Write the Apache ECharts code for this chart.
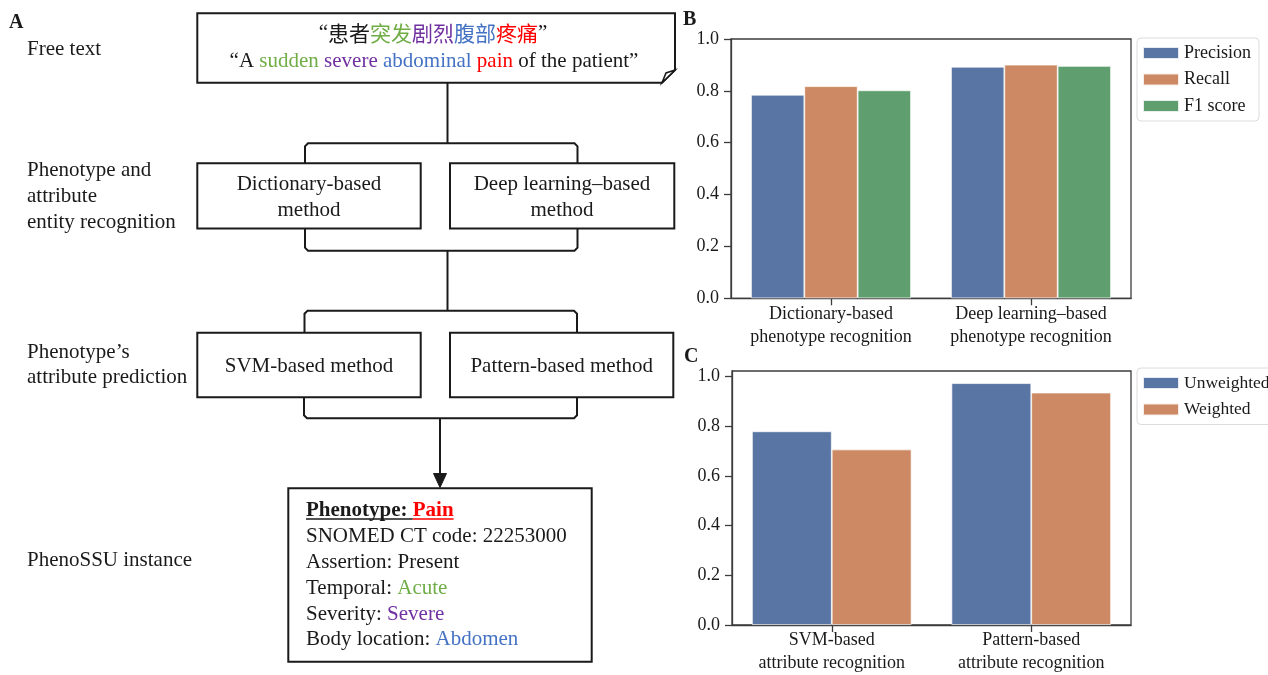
<!DOCTYPE html>
<html>
<head>
<meta charset="utf-8">
<script src="https://cdn.jsdelivr.net/npm/echarts@6/dist/echarts.min.js"></script>
<style>
html,body{margin:0;padding:0;background:#fff;}
#main{width:1268px;height:675px;}
</style>
</head>
<body>
<div id="main"></div>
<script>
// ---------- data ----------
const categoriesB = ['Dictionary-based\nphenotype recognition', 'Deep learning\u2013based\nphenotype recognition'];
const seriesNamesB = ['Precision', 'Recall', 'F1 score'];
const precision = [0.785, 0.893];
const recall = [0.818, 0.901];
const f1score = [0.802, 0.896];

const categoriesC = ['SVM-based\nattribute recognition', 'Pattern-based\nattribute recognition'];
const seriesNamesC = ['Unweighted', 'Weighted'];
const unweighted = [0.780, 0.974];
const weighted = [0.707, 0.936];

const yTickValues = [0, 0.2, 0.4, 0.6, 0.8, 1.0];

// ---------- style ----------
const SERIF = '"Liberation Serif", "Times New Roman", serif';
const CJK = '"Noto Sans CJK SC", sans-serif';
const INK = '#1a1a1a';
const AXIS = '#3c3c3c';
const BLUE = '#5875a4', ORANGE = '#cc8963', GREEN = '#5f9e6e';
const T_GREEN = '#70ad47', T_PURPLE = '#7030a0', T_BLUE = '#4472c4', T_RED = '#ff0000';
const FS = 21;

const chart = echarts.init(document.getElementById('main'), null, {renderer: 'canvas'});

function yAxisCfg(gridIndex, max) {
  return {
    type: 'value', gridIndex: gridIndex, min: 0, max: max,
    splitLine: {show: false},
    axisLine: {show: true, lineStyle: {color: AXIS, width: 1.3}},
    axisTick: {show: true, length: 7, lineStyle: {color: AXIS, width: 1.3}, customValues: yTickValues},
    axisLabel: {
      customValues: yTickValues, margin: 12,
      formatter: v => Number(v).toFixed(1),
      fontFamily: SERIF, fontSize: 18, color: INK
    }
  };
}
function xAxisCfg(gridIndex, cats) {
  return {
    type: 'category', gridIndex: gridIndex, data: cats,
    axisLine: {show: true, lineStyle: {color: AXIS, width: 1.3}},
    axisTick: {show: true, alignWithLabel: true, length: 7, lineStyle: {color: AXIS, width: 1.3}},
    axisLabel: {interval: 0, hideOverlap: false, margin: 4, fontFamily: SERIF, fontSize: 18, lineHeight: 23, color: INK}
  };
}
function barSeries(name, data, color, idx) {
  return {
    type: 'bar', name: name, data: data, xAxisIndex: idx, yAxisIndex: idx,
    barGap: '0%', barCategoryGap: '20%',
    itemStyle: {color: color, borderColor: 'rgba(255,255,255,0.85)', borderWidth: 0.8},
    emphasis: {disabled: true}
  };
}
function legendCfg(top, names, fs) {
  return {
    data: names, orient: 'vertical', left: 1137, top: top,
    itemWidth: 36, itemHeight: 12, itemGap: 8.5,
    padding: [6, 8, 6, 5],
    borderColor: '#dcdcdc', borderWidth: 1, borderRadius: 4, backgroundColor: '#fff',
    icon: 'rect',
    selectedMode: false,
    textStyle: {fontFamily: SERIF, fontSize: fs, color: INK, lineHeight: 18}
  };
}

// ---------- flowchart helpers (decoration) ----------
const G = [];
const LINE = {stroke: INK, lineWidth: 2, fill: null};
function rect(x, y, w, h) {
  G.push({type: 'rect', shape: {x: x, y: y, width: w, height: h}, style: {fill: '#fff', stroke: INK, lineWidth: 2}});
}
function poly(points, extra) {
  G.push({type: 'polyline', shape: {points: points}, style: Object.assign({}, LINE, extra || {})});
}
function text(x, y, str, opt) {
  opt = opt || {};
  const st = Object.assign({
    text: str, fill: INK,
    fontFamily: SERIF, fontSize: FS, fontWeight: 'normal',
    align: 'left', verticalAlign: 'middle',
    textAlign: 'left', textVerticalAlign: 'middle'
  }, opt);
  if (opt.align) st.textAlign = opt.align;
  G.push({type: 'text', x: x, y: y, style: st});
}
function measure(str, weight) {
  const c = document.createElement('canvas').getContext('2d');
  c.font = (weight || 'normal') + ' ' + FS + 'px ' + SERIF;
  return c.measureText(str).width;
}
function tok(color, family, size) {
  return {fill: color, fontFamily: family || SERIF, fontSize: size || FS};
}

// panel labels
text(9, 23, 'A', {fontWeight: 'bold', fontSize: 20});
text(683, 20, 'B', {fontWeight: 'bold', fontSize: 20});
text(684, 357, 'C', {fontWeight: 'bold', fontSize: 20});

// left row labels
text(27, 49.5, 'Free text');
text(27, 170, 'Phenotype and');
text(27, 196, 'attribute');
text(27, 222, 'entity recognition');
text(27, 352, 'Phenotype\u2019s');
text(27, 377, 'attribute prediction');
text(27, 560, 'PhenoSSU instance');

// connectors
poly([[447.5, 82.7], [447.5, 143.3]]);
poly([[305, 163.3], [305, 146.3], [308, 143.3], [574.5, 143.3], [577.5, 146.3], [577.5, 163.3]]);
poly([[305, 228.5], [305, 247.7], [308, 250.7], [574.5, 250.7], [577.5, 247.7], [577.5, 228.5]]);
poly([[447.5, 250.7], [447.5, 310.7]]);
poly([[304.5, 332.7], [304.5, 313.7], [307.5, 310.7], [574, 310.7], [577, 313.7], [577, 332.7]]);
poly([[304, 397.3], [304, 415.3], [307, 418.3], [574, 418.3], [577, 415.3], [577, 397.3]]);
poly([[440, 418.3], [440, 475]]);
G.push({type: 'polygon', shape: {points: [[433.5, 473.5], [446.5, 473.5], [440, 487.5]]}, style: {fill: INK, stroke: INK, lineWidth: 1}});

// top "note" box with folded corner
G.push({type: 'polygon', shape: {points: [[197.3, 13.3], [675, 13.3], [675, 70], [662, 82.7], [197.3, 82.7]]},
  style: {fill: '#fff', stroke: INK, lineWidth: 2}});
G.push({type: 'polygon', shape: {points: [[662, 82.7], [666, 73], [675, 70]]}, style: {fill: '#fff', stroke: INK, lineWidth: 1.6}});
text(433, 33.5, '\u201c{k|患者}{g|突发}{p|剧烈}{b|腹部}{r|疼痛}\u201d', {
  align: 'center',
  rich: {
    k: tok(INK, CJK, 21), g: tok(T_GREEN, CJK, 21), p: tok(T_PURPLE, CJK, 21),
    b: tok(T_BLUE, CJK, 21), r: tok(T_RED, CJK, 21)
  }
});
text(434, 61, '\u201cA {g|sudden} {p|severe} {b|abdominal} {r|pain} of the patient\u201d', {
  align: 'center',
  rich: {g: tok(T_GREEN), p: tok(T_PURPLE), b: tok(T_BLUE), r: tok(T_RED)}
});

// method boxes
rect(197.3, 163.3, 223.4, 65.2);
rect(450, 163.3, 224.3, 65.2);
text(309, 184, 'Dictionary-based', {align: 'center'});
text(309, 210, 'method', {align: 'center'});
text(562, 184, 'Deep learning\u2013based', {align: 'center'});
text(562, 210, 'method', {align: 'center'});

rect(197.3, 332.7, 223.4, 64.6);
rect(450, 332.7, 223.3, 64.6);
text(309, 366.5, 'SVM-based method', {align: 'center'});
text(561.7, 366.5, 'Pattern-based method', {align: 'center'});

// PhenoSSU instance box
rect(288.3, 488.3, 303.4, 173.4);
const px = 306;
const w1 = measure('Phenotype: ', 'bold');
const w2 = measure('Pain', 'bold');
text(px, 510.5, 'Phenotype: ', {fontWeight: 'bold'});
text(px + w1, 510.5, 'Pain', {fontWeight: 'bold', fill: T_RED});
poly([[px, 519], [px + w1, 519]], {lineWidth: 1.4});
poly([[px + w1, 519], [px + w1 + w2, 519]], {lineWidth: 1.4, stroke: T_RED});
text(px, 536.5, 'SNOMED CT code: 22253000');
text(px, 562.5, 'Assertion: Present');
text(px, 588, 'Temporal: {g|Acute}', {rich: {g: tok(T_GREEN)}});
text(px, 614, 'Severity: {p|Severe}', {rich: {p: tok(T_PURPLE)}});
text(px, 639.5, 'Body location: {b|Abdomen}', {rich: {b: tok(T_BLUE)}});

// ---------- option ----------
const option = {
  animation: false,
  backgroundColor: '#fff',
  grid: [
    {left: 731, top: 39, width: 400, height: 259.3, show: true, borderColor: AXIS, borderWidth: 1.3, containLabel: false},
    {left: 732, top: 371, width: 399, height: 257, show: true, borderColor: AXIS, borderWidth: 1.3, containLabel: false}
  ],
  xAxis: [xAxisCfg(0, categoriesB), xAxisCfg(1, categoriesC)],
  yAxis: [yAxisCfg(0, 1.0), yAxisCfg(1, 1.023)],
  legend: [legendCfg(38, seriesNamesB, 18), legendCfg(368, seriesNamesC, 17.5)],
  series: [
    barSeries(seriesNamesB[0], precision, BLUE, 0),
    barSeries(seriesNamesB[1], recall, ORANGE, 0),
    barSeries(seriesNamesB[2], f1score, GREEN, 0),
    barSeries(seriesNamesC[0], unweighted, BLUE, 1),
    barSeries(seriesNamesC[1], weighted, ORANGE, 1)
  ],
  graphic: {elements: G}
};
chart.setOption(option);
</script>
</body>
</html>
